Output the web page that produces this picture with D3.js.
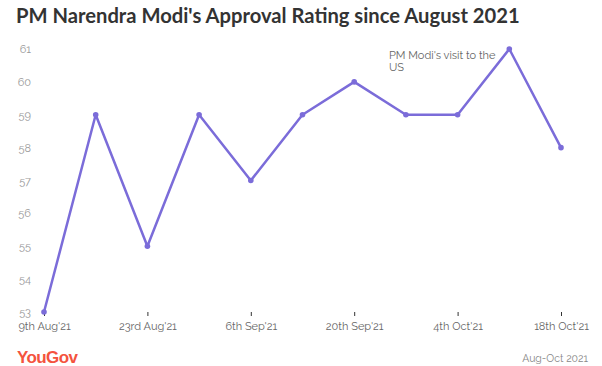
<!DOCTYPE html>
<html><head><meta charset="utf-8">
<script src="https://cdn.jsdelivr.net/npm/d3@7"></script>
<style>body{margin:0;background:#fff}svg{display:block}</style>
</head><body><svg id="c" width="602" height="366"></svg>
<script>
const dates = ["2021-08-09","2021-08-16","2021-08-23","2021-08-30","2021-09-06","2021-09-13","2021-09-20","2021-09-27","2021-10-04","2021-10-11","2021-10-18"];
const approval = [53,59,55,59,57,59,60,59,59,61,58];
const tickDates = ["2021-08-09","2021-08-23","2021-09-06","2021-09-20","2021-10-04","2021-10-18"];
const tickLabels = ["9th Aug'21","23rd Aug'21","6th Sep'21","20th Sep'21","4th Oct'21","18th Oct'21"];
const yTicks = [53,54,55,56,57,58,59,60,61];

const svg = d3.select("#c");
const font = "Raleway, Lato, 'Open Sans', sans-serif";
const parse = d3.utcParse("%Y-%m-%d");
const x = d3.scaleUtc().domain([parse(dates[0]), parse(dates[dates.length-1])]).range([44, 561]);
const y = d3.scaleLinear().domain([53,61]).range([312, 49]);

svg.append("text").attr("x",16).attr("y",23).attr("font-family","Lato, sans-serif").attr("font-weight","bold")
  .attr("font-size",20.2).attr("fill","#333").text("PM Narendra Modi's Approval Rating since August 2021");

const yAxis = d3.axisLeft(y).tickValues(yTicks).tickSize(0).tickPadding(0).tickFormat(d3.format("d"));
const ga = svg.append("g").attr("transform","translate(31,0)").call(yAxis);
ga.select(".domain").remove();
ga.selectAll("text").attr("font-family",font).attr("font-size",11).attr("fill","#999");

const xAxis = d3.axisBottom(x).tickValues(tickDates.map(parse)).tickSize(4).tickPadding(6)
  .tickFormat((d,i)=>tickLabels[i]);
const gx = svg.append("g").attr("transform","translate(0,312)").call(xAxis);
gx.select(".domain").remove();
gx.selectAll("line").attr("stroke","#333");
gx.selectAll("text").attr("font-family",font).attr("font-size",11).attr("fill","#666");

const data = dates.map((d,i)=>({d:parse(d), v:approval[i]}));
svg.append("path").datum(data).attr("fill","none").attr("stroke","#7b6cd9").attr("stroke-width",2.5)
  .attr("stroke-linejoin","round").attr("d", d3.line().x(d=>x(d.d)).y(d=>y(d.v)));
svg.selectAll("circle.pt").data(data).join("circle").attr("class","pt")
  .attr("cx",d=>x(d.d)).attr("cy",d=>y(d.v)).attr("r",2.8).attr("fill","#7b6cd9");

const ann = svg.append("text").attr("font-family",font).attr("font-size",11).attr("fill","#666");
ann.append("tspan").attr("x",389).attr("y",59).text("PM Modi's visit to the");
ann.append("tspan").attr("x",389).attr("y",71).text("US");

svg.append("text").attr("x",17).attr("y",363).attr("font-family","Arial, 'Liberation Sans', sans-serif")
  .attr("font-weight","bold").attr("font-size",17).attr("letter-spacing",-0.6).attr("fill","#f4533e").text("YouGov");
svg.append("text").attr("x",588).attr("y",362).attr("text-anchor","end").attr("font-family",font)
  .attr("font-size",10.5).attr("fill","#888").text("Aug-Oct 2021");
</script></body></html>
